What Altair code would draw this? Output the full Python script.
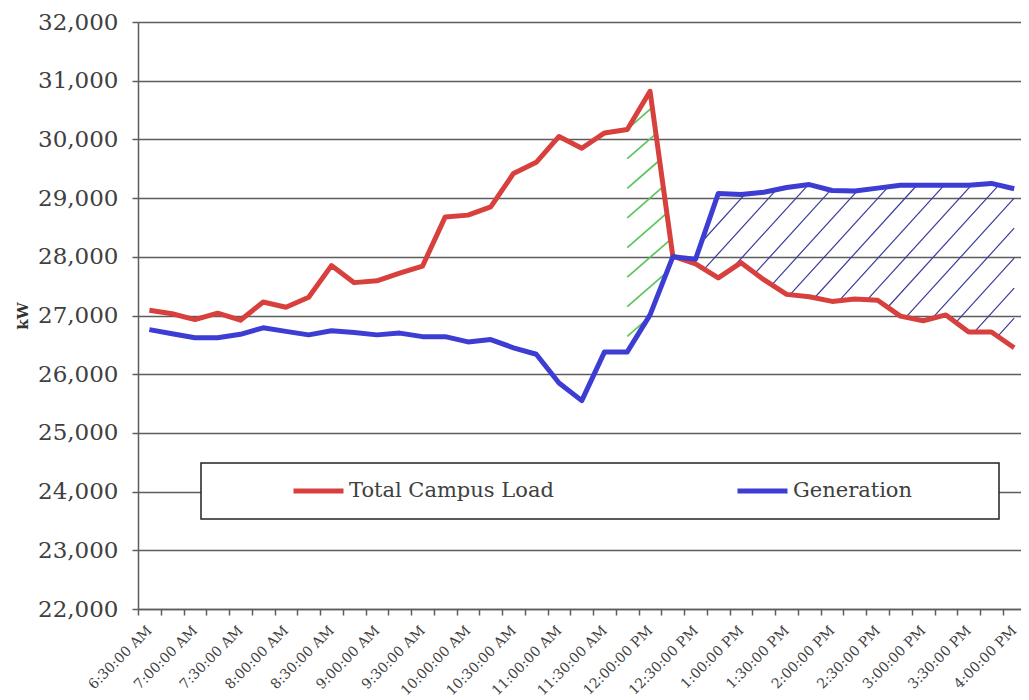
import json
import numpy as np
import pandas as pd
import altair as alt

# ---------------- data ----------------
times = ["6:30:00 AM", "6:45:00 AM", "7:00:00 AM", "7:15:00 AM", "7:30:00 AM", "7:45:00 AM",
         "8:00:00 AM", "8:15:00 AM", "8:30:00 AM", "8:45:00 AM", "9:00:00 AM", "9:15:00 AM",
         "9:30:00 AM", "9:45:00 AM", "10:00:00 AM", "10:15:00 AM", "10:30:00 AM", "10:45:00 AM",
         "11:00:00 AM", "11:15:00 AM", "11:30:00 AM", "11:45:00 AM", "12:00:00 PM", "12:15:00 PM",
         "12:30:00 PM", "12:45:00 PM", "1:00:00 PM", "1:15:00 PM", "1:30:00 PM", "1:45:00 PM",
         "2:00:00 PM", "2:15:00 PM", "2:30:00 PM", "2:45:00 PM", "3:00:00 PM", "3:15:00 PM",
         "3:30:00 PM", "3:45:00 PM", "4:00:00 PM"]

total_campus_load = [27090, 27030, 26930, 27040, 26920, 27230, 27140, 27310, 27850, 27560,
                     27590, 27720, 27840, 28680, 28710, 28850, 29420, 29610, 30050, 29850,
                     30110, 30170, 30820, 28010, 27880, 27640, 27900, 27610, 27360, 27320,
                     27240, 27280, 27260, 26990, 26910, 27010, 26720, 26720, 26450]

generation = [26760, 26690, 26620, 26620, 26680, 26790, 26730, 26670, 26740, 26710,
              26670, 26700, 26640, 26640, 26550, 26590, 26450, 26340, 25850, 25550,
              26380, 26380, 27010, 28000, 27960, 29080, 29060, 29100, 29180, 29230,
              29130, 29120, 29170, 29220, 29220, 29220, 29220, 29250, 29160]

series_names = ["Total Campus Load", "Generation"]
series_colors = ["#d8403e", "#3d3dd4"]
y_ticks = [22000, 23000, 24000, 25000, 26000, 27000, 28000, 29000, 30000, 31000, 32000]

# ---------------- layout ----------------
W, H = 883, 587
XMIN, XMAX = -0.5, 38.3
YMIN, YMAX = 22000, 32000
FONT = "DejaVu Serif"
TXT = "#404040"
GRID = "#5c5c5c"

n = len(times)
idx = np.arange(n)

df = pd.DataFrame({
    "k": np.concatenate([idx, idx]),
    "kW": total_campus_load + generation,
    "series": [series_names[0]] * n + [series_names[1]] * n,
})


# ---------------- hatch lines computed from the two series ----------------
def to_px(k):
    return (np.asarray(k) - XMIN) / (XMAX - XMIN) * W


def to_k(x):
    return np.asarray(x) / W * (XMAX - XMIN) + XMIN


def to_py(v):
    return (YMAX - np.asarray(v)) / (YMAX - YMIN) * H


def to_v(y):
    return YMAX - np.asarray(y) / H * (YMAX - YMIN)


def hatch(k0, k1, upper, lower, slope, gap, kind):
    xs = np.linspace(to_px(k0), to_px(k1), 6000)
    ks = to_k(xs)
    top = to_py(np.interp(ks, idx, upper))
    bot = to_py(np.interp(ks, idx, lower))
    rows = []
    c = np.floor((top + slope * xs).min() / gap) * gap
    c_hi = (bot + slope * xs).max()
    while c <= c_hi:
        ly = c - slope * xs
        inside = (ly >= top) & (ly <= bot)
        d = np.diff(inside.astype(int))
        starts = list(np.where(d == 1)[0] + 1)
        ends = list(np.where(d == -1)[0])
        if inside[0]:
            starts = [0] + starts
        if inside[-1]:
            ends = ends + [len(xs) - 1]
        for s, e in zip(starts, ends):
            if e - s > 3:
                rows.append(dict(x=float(to_k(xs[s])), x2=float(to_k(xs[e])),
                                 y=float(to_v(ly[s])), y2=float(to_v(ly[e])), kind=kind))
        c += gap
    return pd.DataFrame(rows)


green_df = hatch(21, 23, total_campus_load, generation, 0.87, 29.6, "deficit")
blue_df = hatch(23, 38, generation, total_campus_load, 1.1, 30.0, "surplus")

# ---------------- scales & axes ----------------
xscale = alt.Scale(domain=[XMIN, XMAX], nice=False, zero=False)
yscale = alt.Scale(domain=[YMIN, YMAX], nice=False, zero=False)

x_tick_axis = alt.Axis(orient="bottom", values=[i - 0.5 for i in range(n)], labels=False,
                       ticks=True, tickSize=6, tickColor=GRID, tickWidth=1.5,
                       domain=True, domainColor=GRID, domainWidth=1.5, grid=False, title=None)

x_label_axis = alt.Axis(orient="bottom", values=list(range(0, n, 2)),
                        labelExpr=json.dumps(times) + "[datum.value]",
                        labelAngle=-45, labelAlign="right", labelBaseline="middle",
                        labelFont=FONT, labelFontSize=14, labelColor=TXT, labelPadding=19,
                        labelFlush=False, labelOverlap=False, ticks=False, tickSize=0,
                        domain=False, grid=False, title=None)

y_axis = alt.Axis(title="kW", values=y_ticks, labelExpr="format(datum.value, ',')",
                  labelFont=FONT, labelFontSize=23,
                  labelColor=TXT, labelPadding=14, tickSize=6, tickColor=GRID, tickWidth=1.5,
                  domainColor=GRID, domainWidth=1.5, grid=True, gridColor=GRID, gridWidth=1.6,
                  titleFont=FONT, titleFontSize=15, titleFontWeight="bold", titleColor="#333333",
                  titlePadding=7)

# trailing no-break spaces (kept by a zero-width space) widen the legend box on the right
pad_right = "\u00a0" * 11 + "\u200b"
legend = alt.Legend(title=None, orient="none", legendX=63, legendY=441, direction="horizontal",
                    symbolType="stroke", symbolSize=2500, symbolStrokeWidth=5,
                    symbolOffset=77, labelOffset=3, columnPadding=104, padding=13,
                    clipHeight=30,
                    labelExpr="datum.value == 'Generation' ? datum.label + '" + pad_right + "' : datum.label",
                    labelFont=FONT, labelFontSize=21, labelColor=TXT, labelLimit=600,
                    fillColor="white", strokeColor="#222222")

green_layer = alt.Chart(green_df).mark_rule(color="#5cc45c", strokeWidth=1.7, clip=True).encode(
    x=alt.X("x:Q", scale=xscale, axis=x_label_axis),
    x2="x2:Q",
    y=alt.Y("y:Q", scale=yscale, axis=y_axis),
    y2="y2:Q",
)

blue_layer = alt.Chart(blue_df).mark_rule(color="#3a3a9e", strokeWidth=1.2, clip=True).encode(
    x=alt.X("x:Q", scale=xscale, axis=None),
    x2="x2:Q",
    y=alt.Y("y:Q", scale=yscale, axis=y_axis),
    y2="y2:Q",
)

lines = alt.Chart(df).mark_line(strokeWidth=5, clip=True, strokeJoin="round").encode(
    x=alt.X("k:Q", scale=xscale, axis=x_tick_axis),
    y=alt.Y("kW:Q", scale=yscale, axis=y_axis),
    color=alt.Color("series:N", scale=alt.Scale(domain=series_names, range=series_colors),
                    legend=legend),
    detail="series:N",
)

chart = alt.layer(green_layer, blue_layer, lines).resolve_axis(x="independent").properties(
    width=W, height=H,
    autosize=alt.AutoSizeParams(type="none"),
    padding={"left": 130, "top": 14, "right": 0, "bottom": 88},
    background="white",
).configure_view(stroke=None).configure_legend(strokeWidth=1.5)

chart.save("out.html", embed_options={"renderer": "svg", "actions": False})
